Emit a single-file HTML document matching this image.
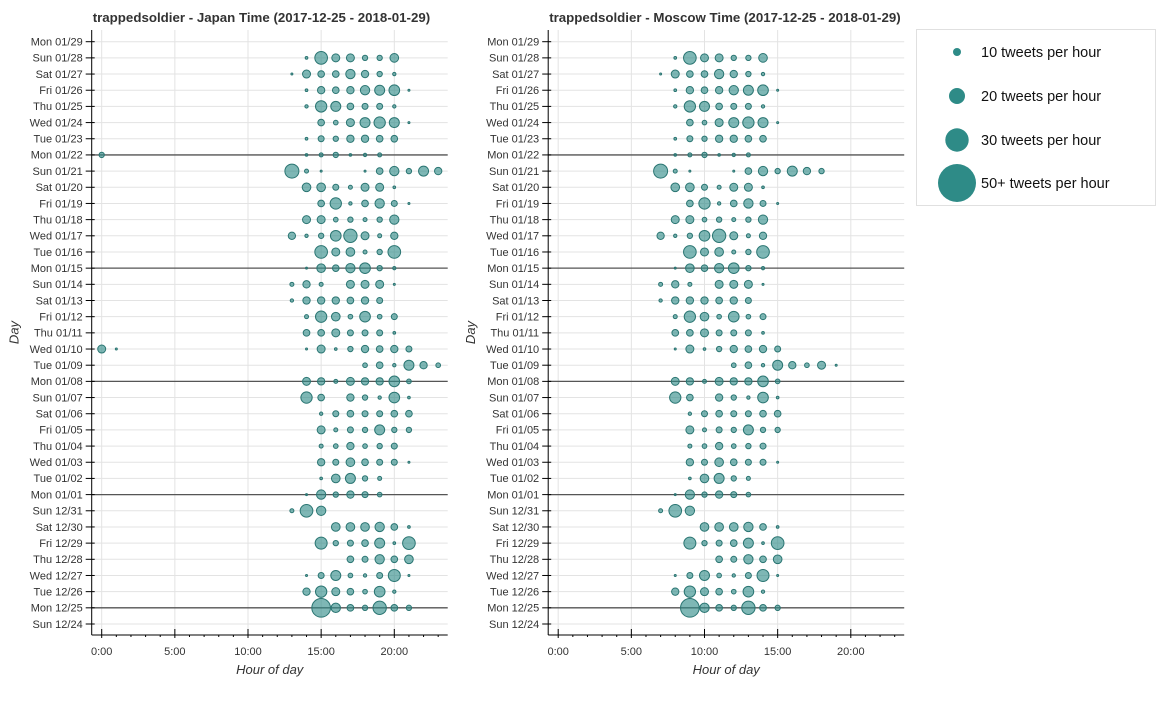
<!DOCTYPE html>
<html><head><meta charset="utf-8">
<style>
body{margin:0;background:#fff;font-family:"Liberation Sans",Arial,sans-serif;}
svg text{font-family:"Liberation Sans",Arial,sans-serif;}
</style></head>
<body>
<svg id="chart" width="1175" height="696" viewBox="0 0 1175 696" xmlns="http://www.w3.org/2000/svg">
<rect x="0" y="0" width="1175" height="696" fill="#fff"/>
<g id="legend">
<rect x="916.5" y="29.5" width="239" height="176" fill="#fff" stroke="#e0e0e0"/>
</g>
</svg>
<script>
// Days (top to bottom) and Japan-time hourly activity per day (hour, size)
const dayLabels = ["Mon 01/29","Sun 01/28","Sat 01/27","Fri 01/26","Thu 01/25","Wed 01/24","Tue 01/23","Mon 01/22","Sun 01/21","Sat 01/20","Fri 01/19","Thu 01/18","Wed 01/17","Tue 01/16","Mon 01/15","Sun 01/14","Sat 01/13","Fri 01/12","Thu 01/11","Wed 01/10","Tue 01/09","Mon 01/08","Sun 01/07","Sat 01/06","Fri 01/05","Thu 01/04","Wed 01/03","Tue 01/02","Mon 01/01","Sun 12/31","Sat 12/30","Fri 12/29","Thu 12/28","Wed 12/27","Tue 12/26","Mon 12/25","Sun 12/24"];
const mondayIdx = [7,14,21,28,35];
const xTickHours = [0,5,10,15,20];
const xTickLabels = ["0:00","5:00","10:00","15:00","20:00"];
const activityHours = [
 [],
 [14,15,16,17,18,19,20],
 [13,14,15,16,17,18,19,20],
 [14,15,16,17,18,19,20,21],
 [14,15,16,17,18,19,20],
 [15,16,17,18,19,20,21],
 [14,15,16,17,18,19,20],
 [0,14,15,16,17,18,19],
 [13,14,15,18,19,20,21,22,23],
 [14,15,16,17,18,19,20],
 [15,16,17,18,19,20,21],
 [14,15,16,17,18,19,20],
 [13,14,15,16,17,18,19,20],
 [15,16,17,18,19,20],
 [14,15,16,17,18,19,20],
 [13,14,15,17,18,19,20],
 [13,14,15,16,17,18,19],
 [14,15,16,17,18,19,20],
 [14,15,16,17,18,19,20],
 [0,1,14,15,16,17,18,19,20,21],
 [18,19,20,21,22,23],
 [14,15,16,17,18,19,20,21],
 [14,15,17,18,19,20,21],
 [15,16,17,18,19,20,21],
 [15,16,17,18,19,20,21],
 [15,16,17,18,19,20],
 [15,16,17,18,19,20,21],
 [15,16,17,18,19],
 [14,15,16,17,18,19],
 [13,14,15],
 [16,17,18,19,20,21],
 [15,16,17,18,19,20,21],
 [17,18,19,20,21],
 [14,15,16,17,18,19,20,21],
 [14,15,16,17,18,19,20],
 [15,16,17,18,19,20,21],
 []
];
const activitySizes = [
 [],
 [4,19,12,12,8,8,13],
 [3,12,10,10,14,11,8,5],
 [4,11,10,11,14,15,16,2],
 [5,17,15,10,9,9,5],
 [10,7,12,15,17,15,3],
 [4,9,8,11,11,10,10],
 [8,4,6,8,4,5,6],
 [21,6,2,2,10,14,8,15,11],
 [13,13,9,6,12,12,4],
 [10,17,5,10,14,9,3],
 [12,12,7,8,6,8,14],
 [11,5,8,16,20,12,6,11],
 [19,12,13,6,8,19],
 [3,13,10,14,16,8,5],
 [6,11,6,12,12,12,2],
 [5,11,11,11,10,11,9],
 [6,17,13,7,16,7,9],
 [10,10,12,9,9,9,4],
 [12,2,3,12,4,8,11,10,11,9],
 [7,10,5,15,11,7],
 [12,11,6,12,11,11,16,7],
 [17,10,11,8,5,16,4],
 [5,9,10,9,9,10,10],
 [12,6,9,8,15,8,8],
 [6,7,11,7,8,9],
 [11,9,13,10,9,9,2],
 [4,13,15,8,6],
 [3,14,8,11,9,7],
 [6,19,14],
 [13,13,13,14,10,4],
 [18,8,9,10,15,4,19],
 [10,9,14,10,13],
 [3,9,15,7,5,9,18,2],
 [11,17,12,10,7,16,5],
 [28,14,10,8,20,10,8],
 []
];
const legendCounts = [10,20,30,50];
const legendLabels = ["10 tweets per hour","20 tweets per hour","30 tweets per hour","50+ tweets per hour"];
const legendRadii = [4,8,11.7,19];

const svg = document.getElementById('chart');
const NS = 'http://www.w3.org/2000/svg';
function mk(tag, attrs, parent){const e=document.createElementNS(NS,tag);for(const k in attrs)e.setAttribute(k,attrs[k]);(parent||svg).appendChild(e);return e;}

const yTop=41.7, yStep=(624-41.7)/36;
function yScale(i){return yTop+i*yStep;}
const pxPerHour=14.63;

function drawPanel(x0, hourShift, title, key){
  const plotL=x0-10, plotR=x0+346, plotT=30, plotB=635;
  const xScale=h=>x0+h*pxPerHour;
  const g=mk('g',{});
  
  
  for(let i=0;i<dayLabels.length;i++){
    const l=mk('line',{x1:plotL,x2:plotR,y1:yScale(i),y2:yScale(i),stroke:'#e3e3e3','stroke-width':1},g);
    
    
  }
  xTickHours.forEach(h=>{
    const l=mk('line',{x1:xScale(h),x2:xScale(h),y1:plotT,y2:plotB,stroke:'#e3e3e3','stroke-width':1},g);
    
    
  });
  mondayIdx.forEach(i=>{
    const l=mk('line',{x1:plotL,x2:plotR,y1:yScale(i),y2:yScale(i),stroke:'#555','stroke-width':1.3},g);
    
    
  });
  for(let d=0;d<activityHours.length;d++){
    activityHours[d].forEach((h,j)=>{
      let hh=h+hourShift, dd=d;
      if(hh<0){hh+=24;dd=d+1;}
      if(hh>23){hh-=24;dd=d-1;}
      const r=Math.max(1,activitySizes[d][j]/3);
      const c=mk('circle',{cx:xScale(hh),cy:yScale(dd),r:r,fill:'#2e8b87','fill-opacity':0.62,stroke:'#2a7572','stroke-width':1},g);
      
      
    });
  }
  mk('line',{x1:plotL,x2:plotL,y1:plotT,y2:plotB,stroke:'#000','stroke-width':1},g);
  mk('line',{x1:plotL,x2:plotR,y1:plotB,y2:plotB,stroke:'#000','stroke-width':1},g);
  dayLabels.forEach((lab,i)=>{
    mk('line',{x1:plotL-6,x2:plotL+3,y1:yScale(i),y2:yScale(i),stroke:'#000'},g);
    const t=mk('text',{x:plotL-9,y:yScale(i)+3.8,'font-size':11,'text-anchor':'end',fill:'#333'},g);
    t.textContent=lab;
    
    
  });
  for(let h=0;h<=23;h++){
    const major=xTickHours.includes(h);
    mk('line',{x1:xScale(h),x2:xScale(h),y1:plotB-(major?6:0),y2:plotB+(major?3:2),stroke:'#000'},g);
  }
  xTickHours.forEach((h,i)=>{
    const t=mk('text',{x:xScale(h),y:plotB+20,'font-size':11,'text-anchor':'middle',fill:'#333'},g);
    t.textContent=xTickLabels[i];
    
    
  });
  const xt=mk('text',{x:(plotL+plotR)/2,y:674,'font-size':13,'font-style':'italic','text-anchor':'middle',fill:'#333'},g);
  xt.textContent='Hour of day';
  
  
  const yt=mk('text',{x:0,y:0,'font-size':13,'font-style':'italic','text-anchor':'middle',fill:'#333',transform:`translate(${plotL-73},${(plotT+plotB)/2}) rotate(-90)`},g);
  yt.textContent='Day';
  
  
  const tt=mk('text',{x:plotL+1,y:22,'font-size':13.3,'font-weight':'bold',fill:'#333'},g);
  tt.textContent=title;
  
  
}
drawPanel(101.7, 0, 'trappedsoldier - Japan Time (2017-12-25 - 2018-01-29)', 'japan');
drawPanel(558.2, -6, 'trappedsoldier - Moscow Time (2017-12-25 - 2018-01-29)', 'moscow');

const lg=document.getElementById('legend');
const legendY=[52,96,140,183];
legendCounts.forEach((n,i)=>{
  const c=mk('circle',{cx:957,cy:legendY[i],r:legendRadii[i],fill:'#2e8b87'},lg);
  
  
  const t=mk('text',{x:981,y:legendY[i]+5,'font-size':14.5,fill:'#111'},lg);
  t.textContent=legendLabels[i];
  
  
});
</script>
</body></html>
